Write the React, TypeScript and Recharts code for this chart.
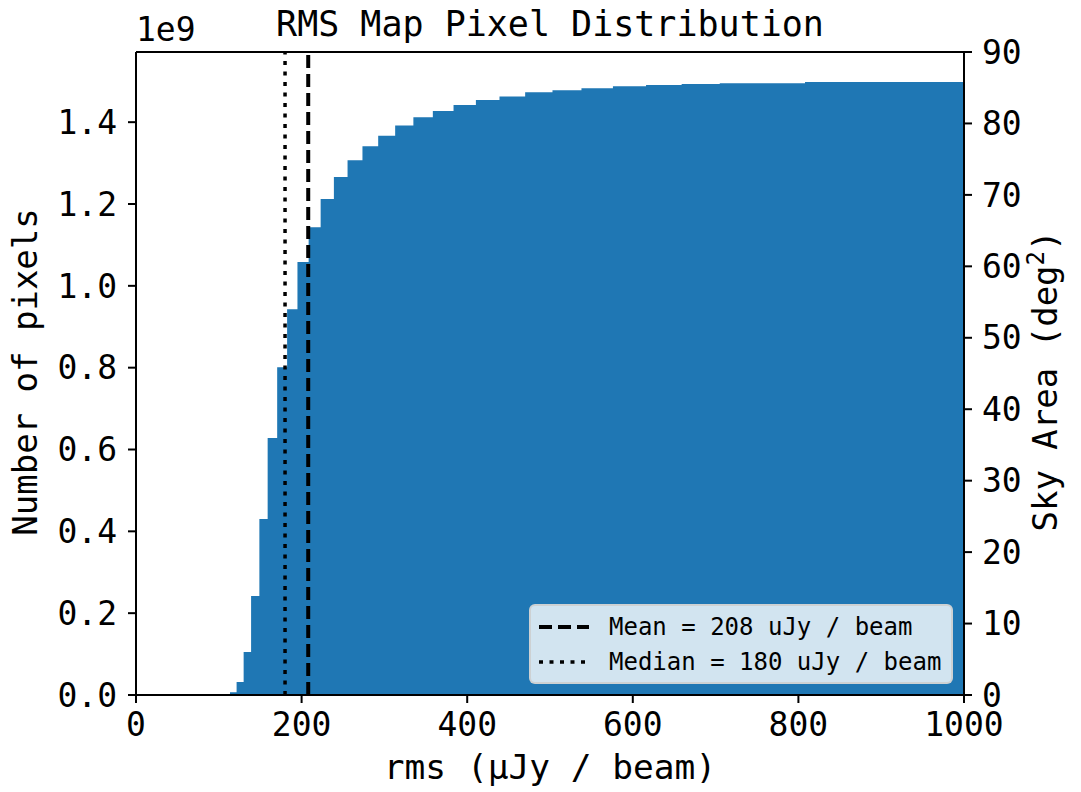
import React from "react";
import { ComposedChart, Area, XAxis, YAxis, ReferenceLine, Label } from "recharts";

// cumulative histogram of map rms, log-spaced bins (uJy / beam)
const rmsEdges = [
  113.5, 121.5, 130, 139, 149, 159, 170.5, 182.5, 195, 208.5, 223, 239, 255.5, 273.5, 292.5, 313, 335,
  358.5, 383.5, 410.5, 439, 470, 503, 538, 576, 616, 659, 705, 755, 808, 864, 925, 990, 1000,
];
// pixel counts per bin, in units of 1e9
const pixelCounts = [
  0.007, 0.032, 0.105, 0.242, 0.43, 0.628, 0.801, 0.943, 1.058, 1.143, 1.212, 1.266, 1.307, 1.341, 1.367,
  1.392, 1.412, 1.427, 1.442, 1.454, 1.463, 1.473, 1.478, 1.483, 1.488, 1.491, 1.493, 1.495, 1.495, 1.498,
  1.498, 1.498, 1.498,
];
const rmsTicks = [0, 200, 400, 600, 800, 1000];
const pixelTicks = [0, 0.2, 0.4, 0.6, 0.8, 1.0, 1.2, 1.4];
const areaTicks = [0, 10, 20, 30, 40, 50, 60, 70, 80, 90];
const pixelMax = 1.5715;
const areaMax = 90;
const meanRms = 208;
const medianRms = 180;

const FONT = "'DejaVu Sans Mono', monospace";
const BLUE = "#1f77b4";
const MEAN_DASH = "13 6";
const MEDIAN_DASH = "4 6.5";

const rows = [
  { rms: 0, pixels: 0 },
  ...pixelCounts.map((v, i) => ({ rms: rmsEdges[i], pixels: v })),
  { rms: rmsEdges[rmsEdges.length - 1], pixels: pixelCounts[pixelCounts.length - 1] },
];

const axisLine = { stroke: "#000", strokeWidth: 2 };
const tick = { fontSize: 33, fill: "#000" };

export default function App() {
  return (
    <div style={{ position: "absolute", left: 0, top: 0, width: 1081, height: 792, fontFamily: FONT, background: "#fff" }}>
      <ComposedChart width={1081} height={792} data={rows} margin={{ top: 52, right: 0, bottom: 0, left: 0 }}>
        <XAxis
          dataKey="rms"
          type="number"
          domain={[0, 1000]}
          ticks={rmsTicks}
          interval={0}
          allowDataOverflow
          height={97}
          tickSize={8}
          tickMargin={10}
          axisLine={axisLine}
          tickLine={axisLine}
          tick={tick}
        >
          <Label value="rms (µJy / beam)" position="insideBottom" offset={13} fontSize={34.5} fill="#000" />
        </XAxis>
        <YAxis
          yAxisId="left"
          domain={[0, pixelMax]}
          ticks={pixelTicks}
          interval={0}
          width={136}
          tickSize={8}
          tickMargin={11}
          axisLine={axisLine}
          tickLine={axisLine}
          tick={tick}
          tickFormatter={(v: number) => v.toFixed(1)}
          label={{
            content: () => (
              <text x={37} y={372} transform="rotate(-90 37 372)" textAnchor="middle" fontSize={34} fill="#000">
                Number of pixels
              </text>
            ),
          }}
        />
        <YAxis
          yAxisId="right"
          orientation="right"
          domain={[0, areaMax]}
          ticks={areaTicks}
          interval={0}
          width={117}
          tickSize={8}
          tickMargin={10}
          axisLine={axisLine}
          tickLine={axisLine}
          tick={tick}
          label={{
            content: () => (
              <text x={1057} y={381} transform="rotate(-90 1057 381)" textAnchor="middle" fontSize={34} fill="#000">
                Sky Area (deg
                <tspan dy={-13} fontSize={24}>2</tspan>
                <tspan dy={13}>)</tspan>
              </text>
            ),
          }}
        />
        <Area
          yAxisId="left"
          type="stepAfter"
          dataKey="pixels"
          fill={BLUE}
          fillOpacity={1}
          stroke="none"
          isAnimationActive={false}
        />
        {/* invisible series so the sky-area axis gets drawn */}
        <Area
          yAxisId="right"
          type="stepAfter"
          dataKey="pixels"
          fill="none"
          stroke="none"
          legendType="none"
          isAnimationActive={false}
        />
        <ReferenceLine yAxisId="left" x={meanRms} stroke="#000" strokeWidth={4} strokeDasharray={MEAN_DASH} />
        <ReferenceLine yAxisId="left" x={medianRms} stroke="#000" strokeWidth={3.5} strokeDasharray={MEDIAN_DASH} />
        {/* top spine */}
        <ReferenceLine yAxisId="left" y={pixelMax} stroke="#000" strokeWidth={2} />
      </ComposedChart>

      <div style={{ position: "absolute", left: 0, width: 1100, top: 4, textAlign: "center", fontSize: 35, lineHeight: "40px" }}>
        RMS Map Pixel Distribution
      </div>
      <div style={{ position: "absolute", left: 136, top: 10, fontSize: 33, lineHeight: "40px" }}>1e9</div>

      <div
        style={{
          position: "absolute",
          left: 529,
          top: 604,
          width: 420,
          height: 76,
          background: "rgba(255,255,255,0.8)",
          border: "2px solid rgba(204,204,204,0.8)",
          borderRadius: 6,
          fontSize: 24,
        }}
      >
        {[
          { name: `Mean = ${meanRms} uJy / beam`, dash: MEAN_DASH, w: 4 },
          { name: `Median = ${medianRms} uJy / beam`, dash: MEDIAN_DASH, w: 3.5 },
        ].map((item, i) => (
          <div key={i} style={{ position: "absolute", left: 8, top: 6 + i * 35, height: 30, display: "flex", alignItems: "center" }}>
            <svg width={52} height={30}>
              <line x1={0} x2={50} y1={15} y2={15} stroke="#000" strokeWidth={item.w} strokeDasharray={item.dash} />
            </svg>
            <span style={{ marginLeft: 18, whiteSpace: "pre" }}>{item.name}</span>
          </div>
        ))}
      </div>
    </div>
  );
}
